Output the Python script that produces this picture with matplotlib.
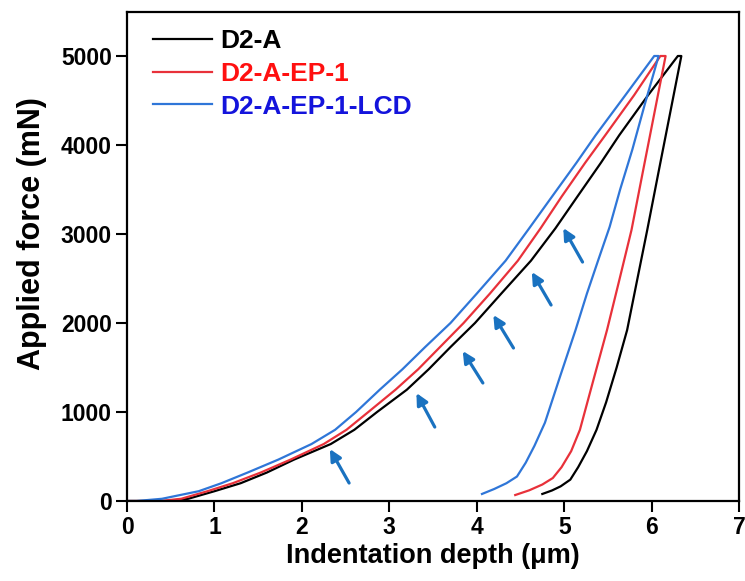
import matplotlib
matplotlib.use("Agg")
import matplotlib.pyplot as plt

plt.rcParams['font.family'] = ['Liberation Sans', 'DejaVu Sans']
plt.rcParams['font.weight'] = 'bold'

# ---- data (depth in um, force in mN) ----
labels = ["D2-A", "D2-A-EP-1", "D2-A-EP-1-LCD"]
line_colors = ["#000000", "#e8313a", "#2f76d8"]
text_colors = ["#000000", "#ff1010", "#1414dc"]

# loading branches (depth read at common force levels)
load_f = [0, 0, 25, 110, 200, 320, 465, 640, 800, 1000, 1250, 1480, 1730,
          2000, 2330, 2700, 3064, 3419, 3800, 4110, 4560, 5000]
d2a_load_h = [0.0, 0.45, 0.70, 1.00, 1.30, 1.60, 1.91, 2.33, 2.60, 2.86, 3.20, 3.45,
              3.70, 3.98, 4.28, 4.62, 4.90, 5.15, 5.42, 5.63, 5.96, 6.30]
ep1_load_h = [0.0, 0.38, 0.62, 0.92, 1.21, 1.53, 1.87, 2.25, 2.51, 2.76, 3.07, 3.33,
              3.58, 3.85, 4.15, 4.47, 4.73, 4.97, 5.24, 5.47, 5.80, 6.10]
lcd_load_h = [0.0, 0.11, 0.40, 0.82, 1.08, 1.38, 1.73, 2.11, 2.38, 2.62, 2.89, 3.15,
              3.41, 3.70, 4.00, 4.33, 4.60, 4.86, 5.14, 5.36, 5.70, 6.03]

# unloading branches
d2a_unload_h = [6.34, 6.21, 6.08, 5.95, 5.83, 5.72, 5.60, 5.48, 5.37, 5.26, 5.16, 5.07, 4.96, 4.86, 4.75]
d2a_unload_f = [5000, 4350, 3700, 3045, 2460, 1921, 1500, 1110, 800, 560, 380, 240, 165, 118, 79]
ep1_unload_h = [6.16, 6.03, 5.90, 5.77, 5.63, 5.49, 5.34, 5.18, 5.08, 4.97, 4.87, 4.75, 4.60, 4.44]
ep1_unload_f = [5000, 4350, 3700, 3045, 2480, 1921, 1380, 800, 560, 380, 258, 185, 120, 67]
lcd_unload_h = [6.08, 5.92, 5.78, 5.64, 5.52, 5.39, 5.26, 5.13, 4.95, 4.78, 4.66, 4.56, 4.46, 4.34, 4.20, 4.06]
lcd_unload_f = [5000, 4450, 3950, 3500, 3080, 2708, 2330, 1921, 1390, 880, 620, 430, 275, 200, 135, 79]

# arrows: tail -> head (depth, force)
arrow_tail_h = [2.54, 3.52, 4.07, 4.42, 4.85, 5.21]
arrow_tail_f = [202, 831, 1326, 1719, 2202, 2685]
arrow_head_h = [2.32, 3.31, 3.84, 4.19, 4.63, 4.99]
arrow_head_f = [584, 1213, 1685, 2090, 2573, 3067]

xticks = [0, 1, 2, 3, 4, 5, 6, 7]
yticks = [0, 1000, 2000, 3000, 4000, 5000]

fig = plt.figure(figsize=(7.45, 5.81), dpi=100)
ax = fig.add_axes([0.1705, 0.1377, 0.8215, 0.8425])

series = [
    (d2a_load_h + d2a_unload_h, load_f + d2a_unload_f),
    (ep1_load_h + ep1_unload_h, load_f + ep1_unload_f),
    (lcd_load_h + lcd_unload_h, load_f + lcd_unload_f),
]
handles = []
for (h, f), lab, c in zip(series, labels, line_colors):
    ln, = ax.plot(h, f, color=c, lw=1.6, label=lab, solid_joinstyle='round')
    handles.append(ln)

for th, tf, hh, hf in zip(arrow_tail_h, arrow_tail_f, arrow_head_h, arrow_head_f):
    ax.annotate("", xy=(hh, hf), xytext=(th, tf),
                arrowprops=dict(arrowstyle='-|>', color='#1a72c0', lw=2.3,
                                mutation_scale=17, shrinkA=0, shrinkB=0))

ax.set_xlim(0, 7)
ax.set_ylim(0, 5500)
ax.set_xticks(xticks)
ax.set_yticks(yticks)
ax.tick_params(direction='out', length=8, width=1.5, labelsize=16.5, pad=3)
for lab in ax.get_xticklabels() + ax.get_yticklabels():
    lab.set_fontweight('bold')
for sp in ax.spines.values():
    sp.set_linewidth(1.6)

ax.set_xlabel("Indentation depth (\u03bcm)", fontsize=19.5, fontweight='bold', labelpad=3)
ax.set_ylabel("Applied force (mN)", fontsize=22, fontweight='bold')
ax.yaxis.set_label_coords(-0.13, 0.547)

leg = ax.legend(handles=handles, loc='upper left', frameon=False, fontsize=19,
                handlelength=2.25, handletextpad=0.3, labelspacing=0.33,
                borderpad=0, borderaxespad=0, bbox_to_anchor=(0.042, 0.964))
for txt, c in zip(leg.get_texts(), text_colors):
    txt.set_color(c)
    txt.set_fontweight('bold')

fig.savefig("out.png", dpi=100)
